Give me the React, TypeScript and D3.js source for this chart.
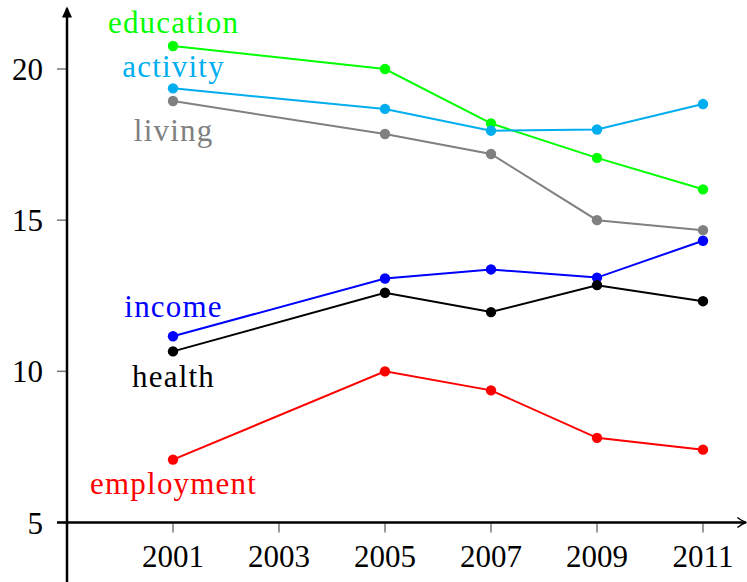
import React, { useEffect, useRef } from 'react';
import * as d3 from 'd3';

const years = [2001, 2005, 2007, 2009, 2011];
const xTicks = [2001, 2003, 2005, 2007, 2009, 2011];
const yTicks = [5, 10, 15, 20];

const education = [20.76, 20.0, 18.2, 17.06, 16.02];
const activity = [19.36, 18.68, 17.96, 18.0, 18.84];
const living = [18.94, 17.85, 17.19, 15.0, 14.67];
const income = [11.16, 13.07, 13.37, 13.1, 14.32];
const health = [10.66, 12.6, 11.96, 12.85, 12.32];
const employment = [7.08, 10.0, 9.37, 7.8, 7.41];

const seriesNames = ['education', 'activity', 'living', 'income', 'health', 'employment'];
const seriesValues = [education, activity, living, income, health, employment];
const seriesColors = ['#00ff00', '#00aeef', '#808080', '#0000ff', '#000000', '#ff0000'];
// where each label sits (value on the y scale, at year 2001)
const labelValues = [21.19, 19.74, 17.62, 11.81, 9.49, 5.93];

const W = 747;
const H = 582;
const FONT = '"Liberation Serif", "Times New Roman", serif';

const App: React.FC = () => {
  const svgRef = useRef<SVGSVGElement>(null);

  useEffect(() => {
    if (!svgRef.current) return;
    const svg = d3.select(svgRef.current);
    svg.selectAll('*').remove();

    const x = d3.scaleLinear().domain([1999, 2011]).range([67, 703]);
    const y = d3.scaleLinear().domain([5, 20]).range([522.5, 69]);

    const g = svg.append('g');

    // ticks
    g.selectAll('line.xtick')
      .data(xTicks)
      .enter()
      .append('line')
      .attr('x1', d => x(d)).attr('x2', d => x(d))
      .attr('y1', y(5) + 1).attr('y2', y(5) + 10)
      .attr('stroke', '#777').attr('stroke-width', 1.5);

    g.selectAll('line.ytick')
      .data(yTicks)
      .enter()
      .append('line')
      .attr('x1', x(1999) - 10).attr('x2', x(1999) - 1)
      .attr('y1', d => y(d)).attr('y2', d => y(d))
      .attr('stroke', '#777').attr('stroke-width', 1.5);

    // axes
    const xEnd = x(2011.8);
    const yTop = y(22);
    g.append('line')
      .attr('x1', x(1999) - 10).attr('x2', xEnd)
      .attr('y1', y(5)).attr('y2', y(5))
      .attr('stroke', '#000').attr('stroke-width', 2.5);
    g.append('line')
      .attr('x1', x(1999)).attr('x2', x(1999))
      .attr('y1', H).attr('y2', yTop)
      .attr('stroke', '#000').attr('stroke-width', 2.5);

    // arrow heads
    g.append('path')
      .attr('d', `M${xEnd - 8},${y(5) - 5} Q${xEnd - 3},${y(5) - 1} ${xEnd + 1},${y(5)} Q${xEnd - 3},${y(5) + 1} ${xEnd - 8},${y(5) + 5}`)
      .attr('fill', 'none').attr('stroke', '#000').attr('stroke-width', 1.5);
    g.append('path')
      .attr('d', `M${x(1999) - 5},${yTop + 9} L${x(1999)},${yTop - 2} L${x(1999) + 5},${yTop + 9} Z`)
      .attr('fill', '#000');

    // tick labels
    g.selectAll('text.xl')
      .data(xTicks)
      .enter()
      .append('text')
      .attr('x', d => x(d))
      .attr('y', 567)
      .attr('text-anchor', 'middle')
      .attr('font-family', FONT)
      .attr('font-size', 31)
      .text(d => d);

    g.selectAll('text.yl')
      .data(yTicks)
      .enter()
      .append('text')
      .attr('x', 43)
      .attr('y', d => y(d) + 11)
      .attr('text-anchor', 'end')
      .attr('font-family', FONT)
      .attr('font-size', 31)
      .text(d => d);

    // series
    const line = d3.line<number>()
      .x((_, i) => x(years[i]))
      .y(d => y(d));

    seriesValues.forEach((vals, k) => {
      const color = seriesColors[k];
      g.append('path')
        .datum(vals)
        .attr('d', line)
        .attr('fill', 'none')
        .attr('stroke', color)
        .attr('stroke-width', 2);
      g.selectAll(`circle.s${k}`)
        .data(vals)
        .enter()
        .append('circle')
        .attr('cx', (_, i) => x(years[i]))
        .attr('cy', d => y(d))
        .attr('r', 5.2)
        .attr('fill', color);
      g.append('text')
        .attr('x', x(2001) + 0.6)
        .attr('y', y(labelValues[k]))
        .attr('text-anchor', 'middle')
        .attr('font-family', FONT)
        .attr('font-size', 31)
        .attr('letter-spacing', 1.2)
        .attr('fill', color)
        .text(seriesNames[k]);
    });
  }, []);

  return (
    <svg
      ref={svgRef}
      width={W}
      height={H}
      style={{ position: 'absolute', left: 0, top: 0, background: '#fff' }}
    />
  );
};

export default App;
